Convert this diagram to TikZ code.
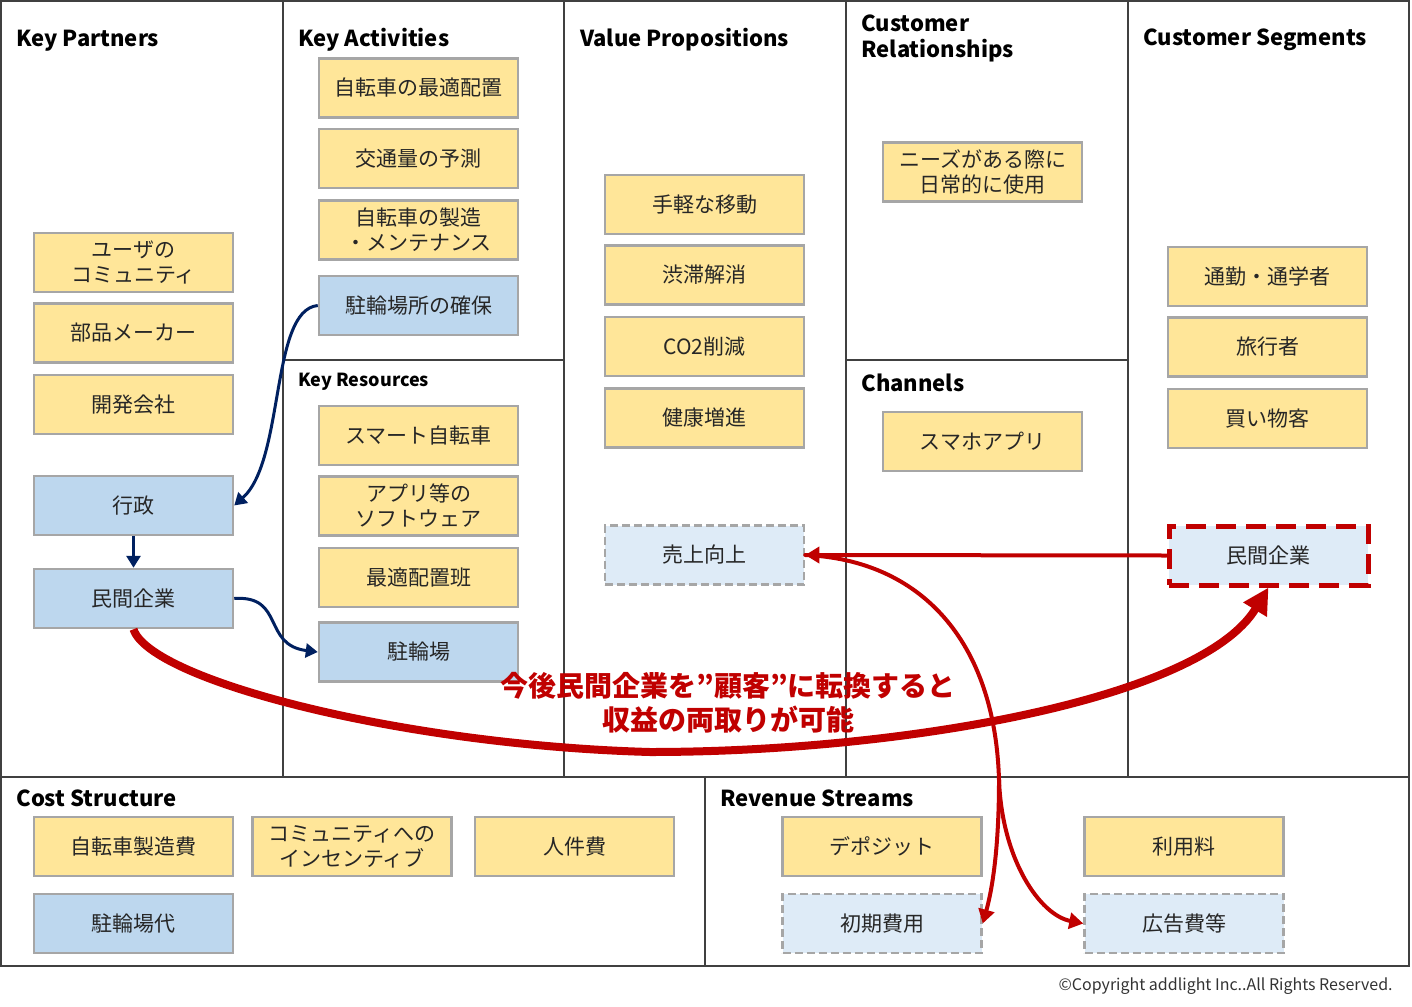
\documentclass[tikz,border=0pt]{standalone}
\usepackage{fontspec}
\setmainfont{Noto Sans CJK JP}
\usetikzlibrary{arrows.meta, positioning}

\definecolor{yellowfill}{HTML}{FFE699}
\definecolor{bluefill}{HTML}{BDD7EE}
\definecolor{lightfill}{HTML}{DEEBF7}
\definecolor{boxline}{HTML}{A6A6A6}
\definecolor{boxtext}{HTML}{262626}
\definecolor{gridline}{HTML}{404040}
\definecolor{navy}{HTML}{002060}
\definecolor{redc}{HTML}{C00000}

\begin{document}
\begin{tikzpicture}[x=0.5pt, y=-0.5pt, node distance=4.5pt,
  every node/.style={font=\fontsize{10.5}{12.5}\selectfont, text=boxtext},
  yellowbox/.style={draw=boxline, line width=1.25pt, fill=yellowfill, minimum width=99.5pt, minimum height=29.5pt, inner sep=0pt, align=center},
  bluebox/.style={yellowbox, fill=bluefill},
  newbox/.style={yellowbox, fill=lightfill, dash pattern=on 4pt off 2pt},
  targetbox/.style={yellowbox, fill=lightfill, draw=redc, line width=2.5pt, dash pattern=on 10pt off 5pt},
  heading/.style={anchor=base west, inner sep=0pt, text=black, font=\fontsize{11}{13}\selectfont\bfseries, align=left},
  msg/.style={text=redc, font=\fontsize{14}{17}\selectfont\bfseries, align=center, inner sep=0pt},
  navyarrow/.style={draw=navy, line width=1.5pt, -{Triangle[length=6pt,width=7pt]}},
  redline/.style={draw=redc, line width=2pt, line cap=round},
  redarrow/.style={redline, -{Triangle[length=7pt,width=8pt]}},
  bigred/.style={draw=redc, line width=4pt, -{Triangle[length=13pt,width=13pt]}}]

  \useasboundingbox (0,0) rectangle (1412,1006);

  % Canvas grid
  \draw[gridline, line width=0.75pt] (1,1) rectangle (1409,966);
  \draw[gridline, line width=0.75pt] (1,777) -- (1409,777);
  \foreach \x in {283,564,846,1128}
    \draw[gridline, line width=0.75pt] (\x,1) -- (\x,777);
  \draw[gridline, line width=0.75pt] (283,360) -- (564,360);
  \draw[gridline, line width=0.75pt] (846,360) -- (1128,360);
  \draw[gridline, line width=0.75pt] (705,777) -- (705,966);

  % Headings
  \node[heading] (h-kp) at (16,47) {Key Partners};
  \node[heading] (h-ka) at (298,47) {Key Activities};
  \node[heading, font=\fontsize{9}{11}\selectfont\bfseries] (h-kr) at (298,386) {Key Resources};
  \node[heading] (h-vp) at (580,47) {Value Propositions};
  \node[heading] (h-cr) at (861,58) {Customer\\Relationships};
  \node[heading] (h-ch) at (861,391) {Channels};
  \node[heading] (h-cs) at (1143,46) {Customer Segments};
  \node[heading] (h-co) at (16,806) {Cost Structure};
  \node[heading] (h-rv) at (720,806) {Revenue Streams};

  % Key Partners
  \node[yellowbox] (kp-comm) at (133.5,262.5) {ユーザの\\コミュニティ};
  \node[yellowbox, below=of kp-comm] (kp-parts) {部品メーカー};
  \node[yellowbox, below=5pt of kp-parts] (kp-dev) {開発会社};
  \node[bluebox] (kp-gov) at (133.5,505.5) {行政};
  \node[bluebox] (kp-corp) at (133.5,598.5) {民間企業};

  % Key Activities
  \node[yellowbox] (ka-opt) at (418.5,88) {自転車の最適配置};
  \node[yellowbox, below=of ka-opt] (ka-pred) {交通量の予測};
  \node[yellowbox, below=5pt of ka-pred] (ka-make) {自転車の製造\\・メンテナンス};
  \node[bluebox, below=7pt of ka-make] (ka-park) {駐輪場所の確保};

  % Key Resources
  \node[yellowbox] (kr-bike) at (418.5,435.5) {スマート自転車};
  \node[yellowbox, below=of kr-bike] (kr-app) {アプリ等の\\ソフトウェア};
  \node[yellowbox, below=5pt of kr-app] (kr-team) {最適配置班};
  \node[bluebox] (kr-park) at (418.5,652) {駐輪場};

  % Value Propositions
  \node[yellowbox] (vp-easy) at (704.5,204.5) {手軽な移動};
  \node[yellowbox, below=of vp-easy] (vp-jam) {渋滞解消};
  \node[yellowbox, below=5pt of vp-jam] (vp-co2) {CO2削減};
  \node[yellowbox, below=5pt of vp-co2] (vp-health) {健康増進};
  \node[newbox] (vp-sales) at (704.5,555) {売上向上};

  % Customer Relationships, Channels
  \node[yellowbox] (cr-use) at (982.5,172) {ニーズがある際に\\日常的に使用};
  \node[yellowbox] (ch-app) at (982.5,441.5) {スマホアプリ};

  % Customer Segments
  \node[yellowbox] (cs-commute) at (1267.5,276.5) {通勤・通学者};
  \node[yellowbox, below=of cs-commute] (cs-travel) {旅行者};
  \node[yellowbox, below=5pt of cs-travel] (cs-shop) {買い物客};
  \node[targetbox] (cs-corp) at (1268.5,555.5) {民間企業};

  % Cost Structure
  \node[yellowbox] (co-bike) at (133.5,846.5) {自転車製造費};
  \node[yellowbox] (co-comm) at (352,846.5) {コミュニティへの\\インセンティブ};
  \node[yellowbox] (co-staff) at (574.5,846.5) {人件費};
  \node[bluebox] (co-park) at (133.5,923.5) {駐輪場代};

  % Revenue Streams
  \node[yellowbox] (rv-dep) at (882,846.5) {デポジット};
  \node[yellowbox] (rv-fee) at (1184,846.5) {利用料};
  \node[newbox] (rv-init) at (882,923.5) {初期費用};
  \node[newbox] (rv-ad) at (1184,923.5) {広告費等};

  % Message
  \node[msg] (msg) at (728,703) {今後民間企業を”顧客”に転換すると\\収益の両取りが可能};
  \node[anchor=east, inner sep=0pt, font=\fontsize{8}{10}\selectfont, text=black!80] (copy) at (1393,986) {©Copyright addlight Inc..All Rights Reserved.};

  % Arrows
  \draw[navyarrow] (ka-park.west) .. controls (270,310) and (285,460) .. (kp-gov.east);
  \draw[navyarrow] (kp-gov) -- (kp-corp);
  \draw[navyarrow] (kp-corp.east) .. controls (285,595) and (262,645) .. (kr-park.west);
  \draw[bigred] (kp-corp.south) .. controls (150,680) and (400,745) .. (650,752)
    .. controls (900,752) and (1200,700) .. (cs-corp.south);
  \draw[redarrow] (cs-corp.west) -- (vp-sales.east);
  \coordinate (split) at (999,780);
  \draw[redline] (vp-sales.east) .. controls (920,560) and (995,640) .. (split);
  \draw[redarrow] (split) .. controls (999,850) and (992,890) .. (rv-init.east);
  \draw[redarrow] (split) .. controls (1002,860) and (1040,915) .. (rv-ad.west);
\end{tikzpicture}
\end{document}
